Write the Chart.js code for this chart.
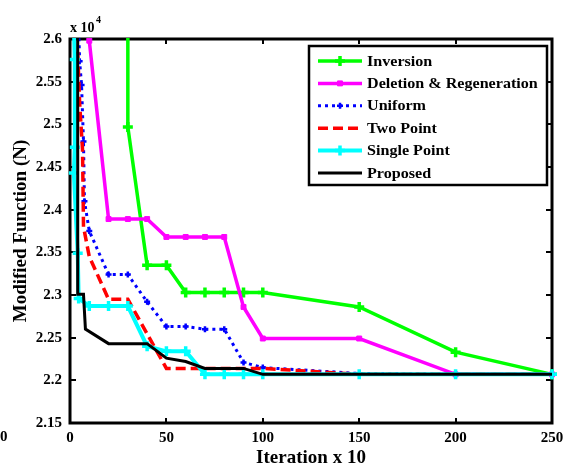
<!DOCTYPE html>
<html>
<head>
<meta charset="utf-8">
<script src="https://cdn.jsdelivr.net/npm/chart.js@4.4.1/dist/chart.umd.min.js"></script>
<style>
  html, body { margin: 0; padding: 0; background: #fff; }
  canvas { display: block; }
</style>
</head>
<body>
<canvas id="convergence" width="571" height="470"></canvas>
<script>
// iteration (x10) and modified function value (x10^4) for each method
const inversionX = [30, 30, 40, 50, 60, 70, 80, 90, 100, 150, 200, 250];
const inversionY = [2.65, 2.497, 2.335, 2.335, 2.303, 2.303, 2.303, 2.303, 2.303, 2.286, 2.233, 2.207];

const deletionX = [10, 20, 30, 40, 50, 60, 70, 80, 90, 100, 150, 200, 250];
const deletionY = [2.598, 2.389, 2.389, 2.389, 2.368, 2.368, 2.368, 2.368, 2.286, 2.249, 2.249, 2.207, 2.207];

const uniformX = [4, 5, 6, 7, 7.5, 10, 20, 30, 40, 50, 60, 70, 80, 90, 100, 150, 200, 250];
const uniformY = [2.65, 2.574, 2.546, 2.48, 2.41, 2.375, 2.324, 2.324, 2.292, 2.263, 2.263, 2.26, 2.26, 2.221, 2.215, 2.208, 2.207, 2.207];

const twoPointX = [4, 5, 6.5, 7, 10, 20, 30, 50, 60, 70, 80, 90, 100, 150, 200, 250];
const twoPointY = [2.585, 2.525, 2.47, 2.38, 2.345, 2.295, 2.295, 2.214, 2.214, 2.214, 2.214, 2.214, 2.214, 2.207, 2.207, 2.207];

const singlePointX = [1.5, 2.5, 2.5, 2, 4, 4.5, 10, 20, 30, 40, 50, 60, 70, 80, 90, 100, 150, 200, 250];
const singlePointY = [2.65, 2.576, 2.473, 2.443, 2.349, 2.296, 2.287, 2.287, 2.287, 2.24, 2.234, 2.234, 2.207, 2.207, 2.207, 2.207, 2.207, 2.207, 2.207];

const proposedX = [4, 4, 7, 8, 20, 40, 50, 60, 70, 90, 100, 250];
const proposedY = [2.65, 2.301, 2.301, 2.26, 2.243, 2.243, 2.226, 2.222, 2.214, 2.214, 2.207, 2.207];

const xTicks = [0, 50, 100, 150, 200, 250];
const yTicks = [2.15, 2.2, 2.25, 2.3, 2.35, 2.4, 2.45, 2.5, 2.55, 2.6];

const yMin = 2.15;
const yMax = 2.6;

function toPoints(xs, ys) {
    return xs.map((x, i) => ({x: x, y: ys[i]}));
}

// points above the top only bring the line in, they get no marker
function markerSize(r) {
    return c => (c.raw && c.raw.y > yMax) ? 0 : r;
}

function series(label, xs, ys, color, opts) {
    return Object.assign({
        label: label,
        data: toPoints(xs, ys),
        borderColor: color,
        backgroundColor: color,
        pointBorderColor: color,
        pointBackgroundColor: color,
        borderWidth: 3.5,
        pointStyle: false,
        markerRadius: 0,
        tension: 0,
        clip: {left: 6, right: 8, top: 1, bottom: 6}
    }, opts);
}

const datasets = [
    series('Inversion', inversionX, inversionY, '#00ff00', {
        order: 6, pointStyle: 'cross', markerRadius: 5, pointBorderWidth: 3.5
    }),
    series('Deletion & Regeneration', deletionX, deletionY, '#ff00ff', {
        order: 5, pointStyle: 'rect', markerRadius: 3.5, pointBorderWidth: 1
    }),
    series('Uniform', uniformX, uniformY, '#0000ff', {
        order: 4, borderWidth: 3, borderDash: [3, 4], pointStyle: 'cross', markerRadius: 3, pointBorderWidth: 2.5
    }),
    series('Two Point', twoPointX, twoPointY, '#ff0000', {
        order: 3, borderDash: [10, 5]
    }),
    series('Single Point', singlePointX, singlePointY, '#00ffff', {
        order: 2, borderWidth: 4, pointStyle: 'cross', markerRadius: 5, pointBorderWidth: 3.5
    }),
    series('Proposed', proposedX, proposedY, '#000000', {
        order: 1, borderWidth: 3
    })
];

datasets.forEach(ds => {
    ds.pointRadius = ds.pointStyle ? markerSize(ds.markerRadius) : 0;
    ds.pointHoverRadius = ds.pointRadius;
});

const serif = '"Liberation Serif", "Times New Roman", serif';
const tickFont = {family: serif, size: 15, weight: 'bold'};
const titleFont = {family: serif, size: 19, weight: 'bold'};

// box round the plot with inward ticks on all four sides
const framePlugin = {
    id: 'frame',
    beforeDatasetsDraw(chart) {
        const {ctx, chartArea: a, scales: {x, y}} = chart;
        ctx.save();
        ctx.strokeStyle = '#000';
        ctx.lineWidth = 2;
        ctx.beginPath();
        x.ticks.forEach(t => {
            const px = Math.round(x.getPixelForValue(t.value));
            ctx.moveTo(px, a.bottom);
            ctx.lineTo(px, a.bottom - 5);
            ctx.moveTo(px, a.top);
            ctx.lineTo(px, a.top + 5);
        });
        y.ticks.forEach(t => {
            const py = Math.round(y.getPixelForValue(t.value));
            ctx.moveTo(a.left, py);
            ctx.lineTo(a.left + 6, py);
            ctx.moveTo(a.right, py);
            ctx.lineTo(a.right - 6, py);
        });
        ctx.stroke();
        ctx.lineWidth = 3;
        ctx.strokeRect(a.left, a.top, a.right - a.left, a.bottom - a.top);
        ctx.restore();
    }
};

// legend box in the upper right corner of the plot
const boxLegend = {
    id: 'boxLegend',
    afterDatasetsDraw(chart) {
        const ctx = chart.ctx;
        const left = 309, top = 46, right = 547, bottom = 185;
        ctx.save();
        ctx.fillStyle = '#fff';
        ctx.fillRect(left, top, right - left, bottom - top);
        ctx.strokeStyle = '#000';
        ctx.lineWidth = 2.5;
        ctx.strokeRect(left, top, right - left, bottom - top);

        chart.data.datasets.forEach((ds, i) => {
            const rowY = 61 + i * 22.4;
            ctx.save();
            ctx.strokeStyle = ds.borderColor;
            ctx.lineWidth = ds.borderWidth;
            ctx.setLineDash(ds.borderDash || []);
            ctx.beginPath();
            ctx.moveTo(318, rowY);
            ctx.lineTo(362, rowY);
            ctx.stroke();
            ctx.setLineDash([]);
            if (ds.pointStyle) {
                ctx.fillStyle = ds.pointBackgroundColor;
                ctx.strokeStyle = ds.pointBorderColor;
                ctx.lineWidth = ds.pointBorderWidth;
                Chart.helpers.drawPoint(ctx, {
                    pointStyle: ds.pointStyle,
                    radius: ds.markerRadius,
                    borderWidth: ds.pointBorderWidth,
                    rotation: 0
                }, 340, rowY);
            }
            ctx.restore();

            ctx.save();
            ctx.fillStyle = '#000';
            ctx.font = 'bold 14px ' + serif;
            ctx.textBaseline = 'middle';
            ctx.translate(367, rowY + 1);
            ctx.scale(1.15, 1);
            ctx.fillText(ds.label, 0, 0);
            ctx.restore();
        });
        ctx.restore();
    },
    afterDraw(chart) {
        const ctx = chart.ctx;
        ctx.save();
        ctx.fillStyle = '#000';
        ctx.font = 'bold 14px ' + serif;
        ctx.textBaseline = 'alphabetic';
        ctx.fillText('x 10', 70, 32);
        ctx.font = 'bold 10px ' + serif;
        ctx.fillText('4', 96, 23);
        ctx.font = 'bold 15px ' + serif;
        ctx.textBaseline = 'middle';
        ctx.fillText('0', 0, 437);
        ctx.restore();
    }
};

const ctx = document.getElementById('convergence').getContext('2d');

new Chart(ctx, {
    type: 'line',
    data: {datasets: datasets},
    plugins: [framePlugin, boxLegend],
    options: {
        responsive: false,
        animation: false,
        devicePixelRatio: 1,
        layout: {padding: {top: 39, right: 19, left: 0, bottom: 0}},
        plugins: {
            legend: {display: false},
            tooltip: {enabled: false}
        },
        scales: {
            x: {
                type: 'linear',
                min: 0,
                max: 250,
                afterBuildTicks: s => { s.ticks = xTicks.map(v => ({value: v})); },
                afterFit: s => { s.height = 47; },
                grid: {display: false, drawTicks: false},
                border: {display: false},
                ticks: {
                    padding: 6,
                    color: '#000',
                    font: tickFont,
                    maxRotation: 0,
                    callback: v => String(v)
                },
                title: {
                    display: true,
                    text: 'Iteration x 10',
                    color: '#000',
                    font: titleFont,
                    padding: {top: 0, bottom: 1}
                }
            },
            y: {
                type: 'linear',
                min: yMin,
                max: yMax,
                afterBuildTicks: s => { s.ticks = yTicks.map(v => ({value: v})); },
                afterFit: s => { s.width = 70; },
                grid: {display: false, drawTicks: false},
                border: {display: false},
                ticks: {
                    padding: 8,
                    color: '#000',
                    font: tickFont,
                    callback: v => String(+v.toFixed(2))
                },
                title: {
                    display: true,
                    text: 'Modified Function (N)',
                    color: '#000',
                    font: titleFont,
                    padding: {top: 10, bottom: 0}
                }
            }
        }
    }
});
</script>
</body>
</html>
